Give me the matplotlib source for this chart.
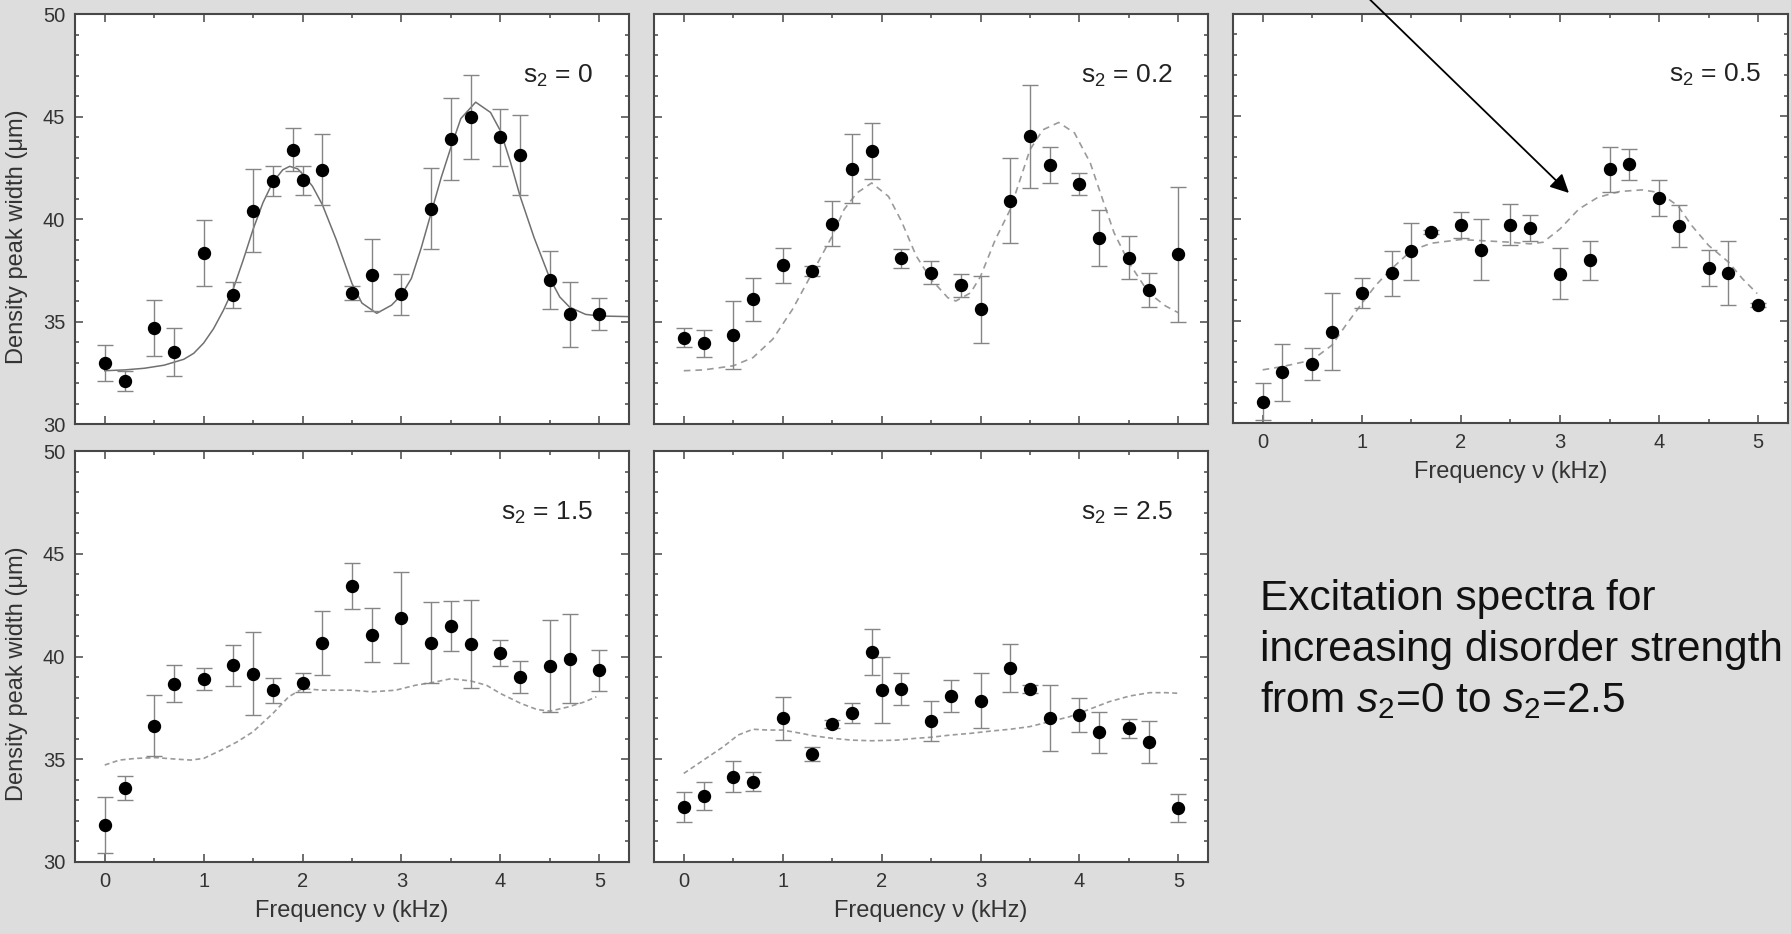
import matplotlib
matplotlib.use('Agg')
import matplotlib.pyplot as plt
from matplotlib.ticker import MultipleLocator

plt.rcParams['font.family'] = ['Liberation Sans', 'DejaVu Sans']
plt.rcParams['mathtext.fontset'] = 'custom'
plt.rcParams['mathtext.rm'] = 'Liberation Sans'
plt.rcParams['mathtext.it'] = 'Liberation Sans:italic'

# frequency grids (kHz) used by the different runs
freq_a = [0, 0.2, 0.5, 0.7, 1.0, 1.3, 1.5, 1.7, 1.9, 2.0, 2.2, 2.5, 2.7, 3.0, 3.3, 3.5, 3.7, 4.0, 4.2, 4.5, 4.7, 5.0]
freq_b = [0, 0.2, 0.5, 0.7, 1.0, 1.3, 1.5, 1.7, 1.9, 2.2, 2.5, 2.8, 3.0, 3.3, 3.5, 3.7, 4.0, 4.2, 4.5, 4.7, 5.0]
freq_c = [0, 0.2, 0.5, 0.7, 1.0, 1.3, 1.5, 1.7, 2.0, 2.2, 2.5, 2.7, 3.0, 3.3, 3.5, 3.7, 4.0, 4.2, 4.5, 4.7, 5.0]

# measured density peak widths (um) and error bars
width_s0 = [32.97, 32.1, 34.7, 33.52, 38.35, 36.3, 40.41, 41.87, 43.38, 41.9, 42.41, 36.4, 37.25, 36.33, 40.51, 43.9, 44.96, 43.98, 43.14, 37.02, 35.35, 35.39]
err_s0 = [0.87, 0.5, 1.36, 1.16, 1.62, 0.62, 2.04, 0.74, 1.05, 0.71, 1.74, 0.34, 1.76, 1.01, 1.99, 1.99, 2.05, 1.38, 1.95, 1.4, 1.57, 0.78]

width_s02 = [34.22, 33.94, 34.35, 36.08, 37.75, 37.46, 39.76, 42.46, 43.3, 38.08, 37.38, 36.76, 35.6, 40.9, 44.03, 42.62, 41.71, 39.08, 38.11, 36.54, 38.27]
err_s02 = [0.45, 0.65, 1.65, 1.04, 0.85, 0.24, 1.1, 1.69, 1.36, 0.47, 0.57, 0.57, 1.64, 2.07, 2.5, 0.88, 0.54, 1.38, 1.04, 0.83, 3.3]

width_s05 = [31.05, 32.47, 32.89, 34.46, 36.37, 37.33, 38.39, 39.33, 39.7, 38.48, 39.7, 39.54, 37.3, 37.95, 42.41, 42.65, 41.0, 39.65, 37.59, 37.35, 35.76]
err_s05 = [0.89, 1.4, 0.77, 1.89, 0.73, 1.1, 1.4, 0.1, 0.63, 1.48, 0.99, 0.65, 1.26, 0.97, 1.11, 0.75, 0.89, 1.02, 0.89, 1.56, 0.1]

width_s15 = [31.78, 33.59, 36.63, 38.68, 38.92, 39.57, 39.17, 38.36, 38.73, 40.67, 43.42, 41.06, 41.88, 40.67, 41.48, 40.59, 40.17, 39.0, 39.54, 39.9, 39.33]
err_s15 = [1.36, 0.58, 1.48, 0.89, 0.53, 1.0, 2.04, 0.61, 0.45, 1.56, 1.11, 1.32, 2.21, 1.98, 1.2, 2.14, 0.63, 0.76, 2.22, 2.15, 1.0]

width_s25 = [32.68, 33.22, 34.15, 33.9, 36.99, 35.25, 36.7, 37.24, 40.2, 38.37, 38.42, 36.86, 38.08, 37.85, 39.43, 38.42, 37.02, 37.15, 36.31, 36.5, 35.85, 32.63]
err_s25 = [0.75, 0.69, 0.75, 0.46, 1.06, 0.35, 0.2, 0.5, 1.12, 1.59, 0.76, 0.98, 0.76, 1.34, 1.16, 0.2, 1.61, 0.81, 1.0, 0.47, 1.02, 0.66]

# theory curves
fit_s0_x = [0.0, 0.2, 0.4, 0.6, 0.8, 0.9, 1.0, 1.1, 1.2, 1.3, 1.4, 1.5, 1.6, 1.7, 1.8, 1.87, 1.95, 2.0, 2.1, 2.2, 2.34, 2.5, 2.6, 2.75, 2.9, 3.0, 3.1, 3.2, 3.3, 3.4, 3.5, 3.6, 3.75, 3.9, 4.0, 4.1, 4.2, 4.34, 4.5, 4.6, 4.7, 4.86, 5.0, 5.3]
fit_s0_y = [32.6, 32.64, 32.72, 32.87, 33.16, 33.45, 33.95, 34.65, 35.55, 36.6, 38.0, 39.5, 40.8, 41.8, 42.4, 42.57, 42.45, 42.2, 41.6, 40.7, 39.0, 36.85, 35.9, 35.4, 35.8, 36.3, 37.1, 38.6, 40.3, 42.0, 43.5, 44.9, 45.7, 45.2, 44.3, 42.8, 41.1, 39.1, 37.1, 36.2, 35.7, 35.35, 35.27, 35.24]

fit_s02_x = [0.0, 0.2, 0.5, 0.7, 0.9, 1.1, 1.3, 1.5, 1.62, 1.75, 1.9, 2.07, 2.2, 2.35, 2.5, 2.67, 2.75, 2.9, 3.0, 3.15, 3.3, 3.5, 3.63, 3.79, 3.95, 4.11, 4.2, 4.35, 4.5, 4.7, 4.87, 5.0]
fit_s02_y = [32.6, 32.64, 32.84, 33.24, 34.14, 35.6, 37.38, 39.16, 40.46, 41.27, 41.76, 41.1, 39.9, 38.2, 37.06, 36.16, 36.0, 36.4, 37.2, 39.0, 40.46, 43.38, 44.35, 44.71, 44.2, 42.73, 41.44, 39.33, 37.87, 36.4, 35.76, 35.43]

fit_s05_x = [0.0, 0.2, 0.5, 0.7, 0.84, 1.0, 1.14, 1.3, 1.5, 1.7, 2.0, 2.2, 2.5, 2.7, 2.83, 3.0, 3.19, 3.38, 3.6, 3.83, 4.0, 4.19, 4.33, 4.5, 4.7, 4.84, 4.99]
fit_s05_y = [32.6, 32.76, 33.08, 33.81, 34.79, 35.84, 36.73, 37.54, 38.43, 38.79, 38.97, 38.92, 38.84, 38.76, 38.84, 39.49, 40.46, 41.03, 41.32, 41.4, 41.27, 40.62, 39.65, 38.68, 37.87, 37.06, 36.33]

fit_s15_x = [0.0, 0.15, 0.31, 0.51, 0.71, 0.87, 1.0, 1.18, 1.34, 1.5, 1.7, 1.86, 2.0, 2.2, 2.5, 2.7, 2.94, 3.14, 3.31, 3.5, 3.7, 3.86, 4.0, 4.21, 4.37, 4.5, 4.69, 4.85, 4.97]
fit_s15_y = [34.72, 34.96, 35.04, 35.08, 35.01, 34.96, 35.04, 35.45, 35.85, 36.34, 37.23, 38.04, 38.44, 38.36, 38.36, 38.28, 38.36, 38.6, 38.73, 38.92, 38.81, 38.6, 38.2, 37.71, 37.42, 37.34, 37.55, 37.79, 38.04]

fit_s25_x = [0.0, 0.2, 0.4, 0.55, 0.7, 0.85, 1.0, 1.19, 1.3, 1.5, 1.7, 1.9, 2.15, 2.35, 2.5, 2.7, 2.9, 3.1, 3.3, 3.5, 3.7, 3.9, 4.1, 4.3, 4.51, 4.71, 4.87, 5.0]
fit_s25_y = [34.31, 34.96, 35.61, 36.18, 36.46, 36.42, 36.42, 36.26, 36.15, 36.02, 35.93, 35.9, 35.93, 36.02, 36.07, 36.18, 36.26, 36.37, 36.46, 36.59, 36.83, 37.07, 37.43, 37.8, 38.08, 38.24, 38.24, 38.21]

panel_labels = ['s$_2$ = 0', 's$_2$ = 0.2', 's$_2$ = 0.5', 's$_2$ = 1.5', 's$_2$ = 2.5']
x_label = 'Frequency \u03bd (kHz)'
y_label = 'Density peak width (\u03bcm)'
caption = ['Excitation spectra for', 'increasing disorder strength', 'from $s_2$=0 to $s_2$=2.5']

BG = '#dddddd'
FRAME = '#474747'
TXT = '#333333'


def panelSetup(fig, rect, xticklabels=False, yticklabels=False):
  ax = fig.add_axes(rect)
  ax.set_xlim(-0.3, 5.3)
  ax.set_ylim(30, 50)
  ax.xaxis.set_major_locator(MultipleLocator(1))
  ax.xaxis.set_minor_locator(MultipleLocator(0.5))
  ax.yaxis.set_major_locator(MultipleLocator(5))
  ax.yaxis.set_minor_locator(MultipleLocator(1))
  ax.tick_params(which='both', direction='in', top=True, right=True,
                 color=FRAME, width=1.1, labelcolor=TXT, labelsize=14.5, pad=7)
  ax.tick_params(which='major', length=6)
  ax.tick_params(which='minor', length=3)
  ax.tick_params(axis='x', labelbottom=xticklabels)
  ax.tick_params(axis='y', labelleft=yticklabels)
  for s in ax.spines.values():
    s.set_color(FRAME)
    s.set_linewidth(1.5)
  if xticklabels:
    ax.set_xlabel(x_label, fontsize=17, color=TXT, labelpad=7)
  if yticklabels:
    ax.set_ylabel(y_label, fontsize=17, color=TXT)
    ax.yaxis.set_label_coords(-0.085, 0.457)
  return ax


def drawData(ax, f, w, e, fx, fy, label, label_x, solid=False, dashes=(4, 3)):
  if solid:
    ax.plot(fx, fy, color='#707070', lw=1.1, zorder=2)
  else:
    ax.plot(fx, fy, color='#9a9a9a', lw=1.2, dashes=dashes, zorder=2)
  ax.errorbar(f, w, yerr=e, fmt='o', color='black', ms=8.6, mec='black',
              ecolor='#858585', elinewidth=1.0, capsize=6, capthick=1.0, zorder=3)
  ax.text(label_x, 0.85, label, transform=ax.transAxes, ha='right', va='center',
          fontsize=19, color='#222222')


fig = plt.figure(figsize=(17.91, 9.34), dpi=100, facecolor=BG)

ax1 = panelSetup(fig, [0.0419, 0.5460, 0.3093, 0.4390], yticklabels=True)
ax2 = panelSetup(fig, [0.3652, 0.5460, 0.3093, 0.4390])
ax3 = panelSetup(fig, [0.6884, 0.5471, 0.3099, 0.4379], xticklabels=True)
ax4 = panelSetup(fig, [0.0419, 0.0771, 0.3093, 0.4400], xticklabels=True, yticklabels=True)
ax5 = panelSetup(fig, [0.3652, 0.0771, 0.3093, 0.4400], xticklabels=True)

drawData(ax1, freq_a, width_s0, err_s0, fit_s0_x, fit_s0_y, panel_labels[0], 0.935, solid=True)
drawData(ax2, freq_b, width_s02, err_s02, fit_s02_x, fit_s02_y, panel_labels[1], 0.937)
drawData(ax3, freq_c, width_s05, err_s05, fit_s05_x, fit_s05_y, panel_labels[2], 0.951)
drawData(ax4, freq_c, width_s15, err_s15, fit_s15_x, fit_s15_y, panel_labels[3], 0.935, dashes=(3, 2))
drawData(ax5, freq_a, width_s25, err_s25, fit_s25_x, fit_s25_y, panel_labels[4], 0.937, dashes=(3, 2))

# arrow coming in from above the figure, pointing at the s2=0.5 curve
ax3.annotate('', xy=(3.09, 41.25), xytext=(0.88, 51.66), xycoords='data',
             textcoords='data', annotation_clip=False,
             arrowprops=dict(arrowstyle='-|>', color='black', lw=1.3,
                             mutation_scale=28, shrinkA=0, shrinkB=0))

# caption, one line at a time
for i, line in enumerate(caption):
  fig.text(1260 / 1791, 1 - (610 + 51 * i) / 934, line, fontsize=30.5,
           color='#111111', ha='left', va='baseline')

fig.savefig('out.png', dpi=100, facecolor=fig.get_facecolor())
